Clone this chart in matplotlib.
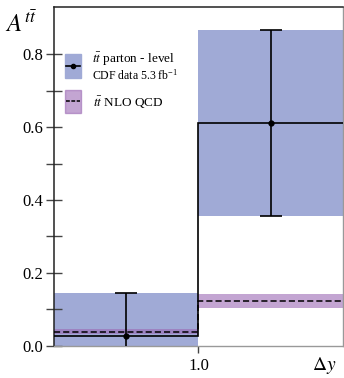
import matplotlib
matplotlib.use('Agg')
import matplotlib.pyplot as plt
from matplotlib.patches import Rectangle
from matplotlib.lines import Line2D
import numpy as np

plt.rcParams['font.family'] = ['Liberation Serif', 'DejaVu Serif']
plt.rcParams['mathtext.fontset'] = 'stix'

# bins in |delta y|
bin_edges = [0.0, 1.0, 2.0]
data_vals = [0.026, 0.611]
data_errs = [0.118, 0.256]
nlo_vals = [0.039, 0.123]
nlo_errs = [0.006, 0.018]
y_ticks = [0.0, 0.2, 0.4, 0.6, 0.8]

blue = '#A0AAD6'
purple = '#9B69B4'

edges = np.array(bin_edges)
centers = 0.5 * (edges[:-1] + edges[1:])
widths = np.diff(edges)
dv = np.array(data_vals)
de = np.array(data_errs)
nv = np.array(nlo_vals)
ne = np.array(nlo_errs)

fig = plt.figure(figsize=(3.44, 3.78), dpi=100)
ax = fig.add_axes([0.157, 0.085, 0.84, 0.897])

# data uncertainty bands
ax.bar(centers, 2 * de, bottom=dv - de, width=widths, color=blue, edgecolor='none', zorder=1)
# NLO bands
ax.bar(centers, 2 * ne, bottom=nv - ne, width=widths, color=purple, alpha=0.6, edgecolor='none', zorder=2)

# data step line and error bars
ax.stairs(dv, edges, baseline=None, color='black', lw=1.2, zorder=4)
ax.errorbar(centers, dv, yerr=de, fmt='o', ms=3.5, color='black', lw=1.2, capsize=8, capthick=1.2, zorder=5)
# NLO prediction
ax.stairs(nv, edges, baseline=None, color='black', lw=1.1, ls=(0, (4, 2)), zorder=3)

ax.set_xlim(0, 2)
ax.set_ylim(0, 0.93)
ax.set_yticks(y_ticks)
ax.set_yticklabels(['%.1f' % t for t in y_ticks])
ax.set_yticks([0.1, 0.3, 0.5, 0.7], minor=True)
ax.set_xticks([1.0])
ax.set_xticklabels(['1.0'])
ax.tick_params(axis='y', which='both', direction='inout', length=11, width=1.0, color='#444444',
               labelsize=12, pad=2)
ax.tick_params(axis='x', direction='out', length=5, width=1.0, color='#444444', labelsize=12, pad=4)

for side in ['left', 'top']:
    ax.spines[side].set_color('#222222')
    ax.spines[side].set_linewidth(1.1)
for side in ['right', 'bottom']:
    ax.spines[side].set_color('#999999')
    ax.spines[side].set_linewidth(1.0)

ax.text(-0.115, 0.95, r'$A^{t\bar{t}}$', transform=ax.transAxes, fontsize=18, ha='center', va='center')
ax.text(0.935, -0.058, r'$\Delta y$', transform=ax.transAxes, fontsize=14, ha='center', va='center')

# legend drawn by hand
tr = ax.transAxes
ax.add_patch(Rectangle((0.038, 0.79), 0.055, 0.071, transform=tr, color=blue, zorder=6))
ax.add_line(Line2D([0.042, 0.089], [0.826, 0.826], transform=tr, color='black', lw=1.2, zorder=7))
ax.plot([0.0655], [0.826], 'o', color='black', ms=3, transform=tr, zorder=8)
ax.add_patch(Rectangle((0.038, 0.687), 0.055, 0.068, transform=tr, color=purple, alpha=0.6, zorder=6))
ax.add_line(Line2D([0.042, 0.089], [0.721, 0.721], transform=tr, color='black', lw=1.1,
                   ls=(0, (2.5, 1)), zorder=7))
ax.text(0.131, 0.846, r'$t\bar{t}$ parton - level', transform=tr, fontsize=9.5, va='center', zorder=8)
ax.text(0.131, 0.797, r'CDF data 5.3 fb$^{\mathregular{-1}}$', transform=tr, fontsize=8.5, va='center', zorder=8)
ax.text(0.134, 0.718, r'$t\bar{t}$ NLO QCD', transform=tr, fontsize=9.5, va='center', zorder=8)

fig.savefig('out.png', dpi=100)
